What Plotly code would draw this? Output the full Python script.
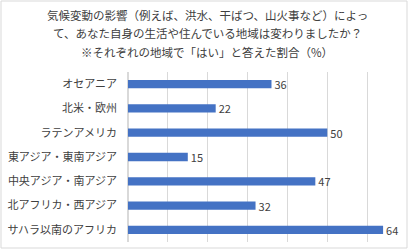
import plotly.graph_objects as go

regions = ["オセアニア", "北米・欧州", "ラテンアメリカ", "東アジア・東南アジア",
           "中央アジア・南アジア", "北アフリカ・西アジア", "サハラ以南のアフリカ"]
values = [36, 22, 50, 15, 47, 32, 64]
title_lines = ["気候変動の影響（例えば、洪水、干ばつ、山火事など）によっ",
               "て、あなた自身の生活や住んでいる地域は変わりましたか？",
               "※それぞれの地域で「はい」と答えた割合（%）"]

FONT = "Noto Sans CJK JP"
TOP, BOT, H = 72, 242, 170

fig = go.Figure(go.Bar(
    y=regions, x=values, orientation="h",
    marker=dict(color="#4472C4", line=dict(width=0)),
    text=[str(v) for v in values], textposition="outside",
    constraintext="none",
    textfont=dict(family=FONT, size=11, color="#404040"),
    cliponaxis=False,
))

annotations = []
for i, (line, ypx) in enumerate(zip(title_lines, [15, 33.5, 52])):
    annotations.append(dict(text=line, xref="paper", yref="paper",
                            x=(207 - 128) / 279, y=(BOT - ypx) / H,
                            xanchor="center", yanchor="middle", showarrow=False,
                            font=dict(family=FONT, size=11.5, color="#404040")))

fig.update_layout(
    width=415, height=250,
    margin=dict(l=128, r=8, t=TOP, b=250 - BOT),
    paper_bgcolor="white", plot_bgcolor="white",
    bargap=0.66,
    showlegend=False,
    font=dict(family=FONT, color="#404040"),
    annotations=annotations,
    xaxis=dict(range=[0, 70], dtick=10, showticklabels=False,
               showgrid=True, gridcolor="#D9D9D9", gridwidth=1,
               zeroline=True, zerolinecolor="#D9D9D9", showline=False),
    yaxis=dict(autorange="reversed", showgrid=False, ticks="",
               ticklabelstandoff=10,
               tickfont=dict(family=FONT, size=11, color="#404040")),
    shapes=[dict(type="rect", xref="paper", yref="paper",
                 x0=-127/279, x1=1.0, y0=-6/170, y1=(BOT - 1)/H,
                 line=dict(color="#D9D9D9", width=1))],
)

fig.write_html("out.html")
